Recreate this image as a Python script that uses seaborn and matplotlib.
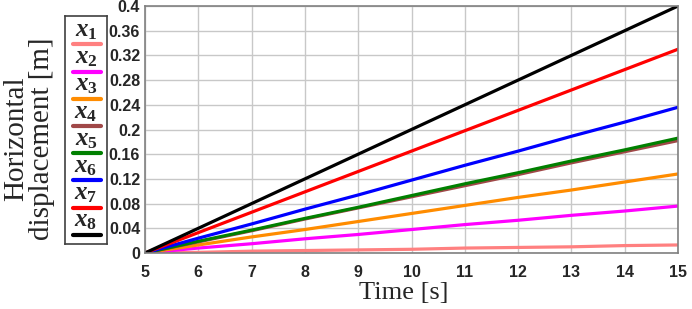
import matplotlib.pyplot as plt
import pandas as pd
import seaborn as sns
from matplotlib.lines import Line2D

# Data (values at each whole second)
time_s = [5, 6, 7, 8, 9, 10, 11, 12, 13, 14, 15]
x1 = [0, 0.001, 0.003, 0.004, 0.005, 0.006, 0.008, 0.009, 0.010, 0.012, 0.013]
x2 = [0, 0.008, 0.015, 0.023, 0.030, 0.038, 0.046, 0.053, 0.061, 0.068, 0.076]
x3 = [0, 0.013, 0.026, 0.038, 0.051, 0.064, 0.077, 0.090, 0.102, 0.115, 0.128]
x4 = [0, 0.018, 0.036, 0.055, 0.073, 0.091, 0.109, 0.127, 0.146, 0.164, 0.182]
x5 = [0, 0.019, 0.037, 0.056, 0.074, 0.093, 0.112, 0.130, 0.149, 0.167, 0.186]
x6 = [0, 0.024, 0.047, 0.071, 0.094, 0.118, 0.142, 0.165, 0.189, 0.212, 0.236]
x7 = [0, 0.033, 0.066, 0.099, 0.132, 0.165, 0.198, 0.231, 0.264, 0.297, 0.330]
x8 = [0, 0.040, 0.080, 0.120, 0.160, 0.200, 0.240, 0.280, 0.320, 0.360, 0.400]

series_names = ["x1", "x2", "x3", "x4", "x5", "x6", "x7", "x8"]
series_labels = [r"$x_{%d}$" % (i + 1) for i in range(8)]
colors = ["#ff8080", "#ff00ff", "#ff8c00", "#a04848",
          "#008000", "#0000ff", "#ff0000", "#000000"]
y_ticks = [0, 0.04, 0.08, 0.12, 0.16, 0.2, 0.24, 0.28, 0.32, 0.36, 0.4]
y_ticklabels = ["0", "0.04", "0.08", "0.12", "0.16", "0.2",
                "0.24", "0.28", "0.32", "0.36", "0.4"]

values = [x1, x2, x3, x4, x5, x6, x7, x8]
df = pd.DataFrame({name: v for name, v in zip(series_names, values)})
df["Time"] = time_s
df_long = df.melt(id_vars="Time", var_name="series", value_name="disp")

sns.set_style("white")
plt.rcParams["mathtext.fontset"] = "custom"
plt.rcParams["mathtext.it"] = "Liberation Serif:italic:bold"
plt.rcParams["mathtext.rm"] = "Liberation Serif:bold"
plt.rcParams["mathtext.bf"] = "Liberation Serif:bold"

fig = plt.figure(figsize=(6.92, 3.09), dpi=100)
ax = fig.add_axes([145 / 692, 1 - 253 / 309, 533 / 692, 247 / 309])

sns.lineplot(data=df_long, x="Time", y="disp", hue="series",
             palette=dict(zip(series_names, colors)), linewidth=2.3,
             legend=False, ax=ax)

ax.set_xlim(5, 15)
ax.set_ylim(0, 0.4)
ax.set_xticks(time_s)
ax.set_yticks(y_ticks)
ax.set_yticklabels(y_ticklabels)
for lbl in ax.get_xticklabels() + ax.get_yticklabels():
    lbl.set_fontfamily("Liberation Sans")
    lbl.set_fontweight("bold")
    lbl.set_fontsize(11.5)
ax.tick_params(axis="x", length=0, pad=8.5)
ax.tick_params(axis="y", length=0, pad=3.5)
ax.set_xlabel("")
ax.set_ylabel("")
ax.grid(True, color="#c8c8c8", linewidth=1)
for sp in ax.spines.values():
    sp.set_color("#808080")
    sp.set_linewidth(1.2)

fig.text(404 / 692, 1 - 293 / 309, "Time [s]", family="Liberation Serif",
         fontsize=19, ha="center", va="center")
fig.text(29 / 692, 1 - 139 / 309, "Horizontal\ndisplacement [m]",
         family="Liberation Serif", fontsize=21, rotation=90,
         ha="center", va="center", linespacing=1.0)

# Legend: label above each short line, boxed
lax = fig.add_axes([65 / 692, 1 - 244 / 309, 42 / 692, 228 / 309])
lax.set_xlim(0, 42)
lax.set_ylim(228, 0)
lax.set_xticks([])
lax.set_yticks([])
for sp in lax.spines.values():
    sp.set_color("#404040")
    sp.set_linewidth(1.2)
for i, (lab, c) in enumerate(zip(series_labels, colors)):
    lax.text(21, 14 + 27.2 * i, lab, ha="center", va="center", fontsize=18)
    lax.add_line(Line2D([7.5, 36], [28.3 + 27.2 * i] * 2, color=c,
                        linewidth=3, solid_capstyle="round"))

fig.savefig("out.png", dpi=100)
